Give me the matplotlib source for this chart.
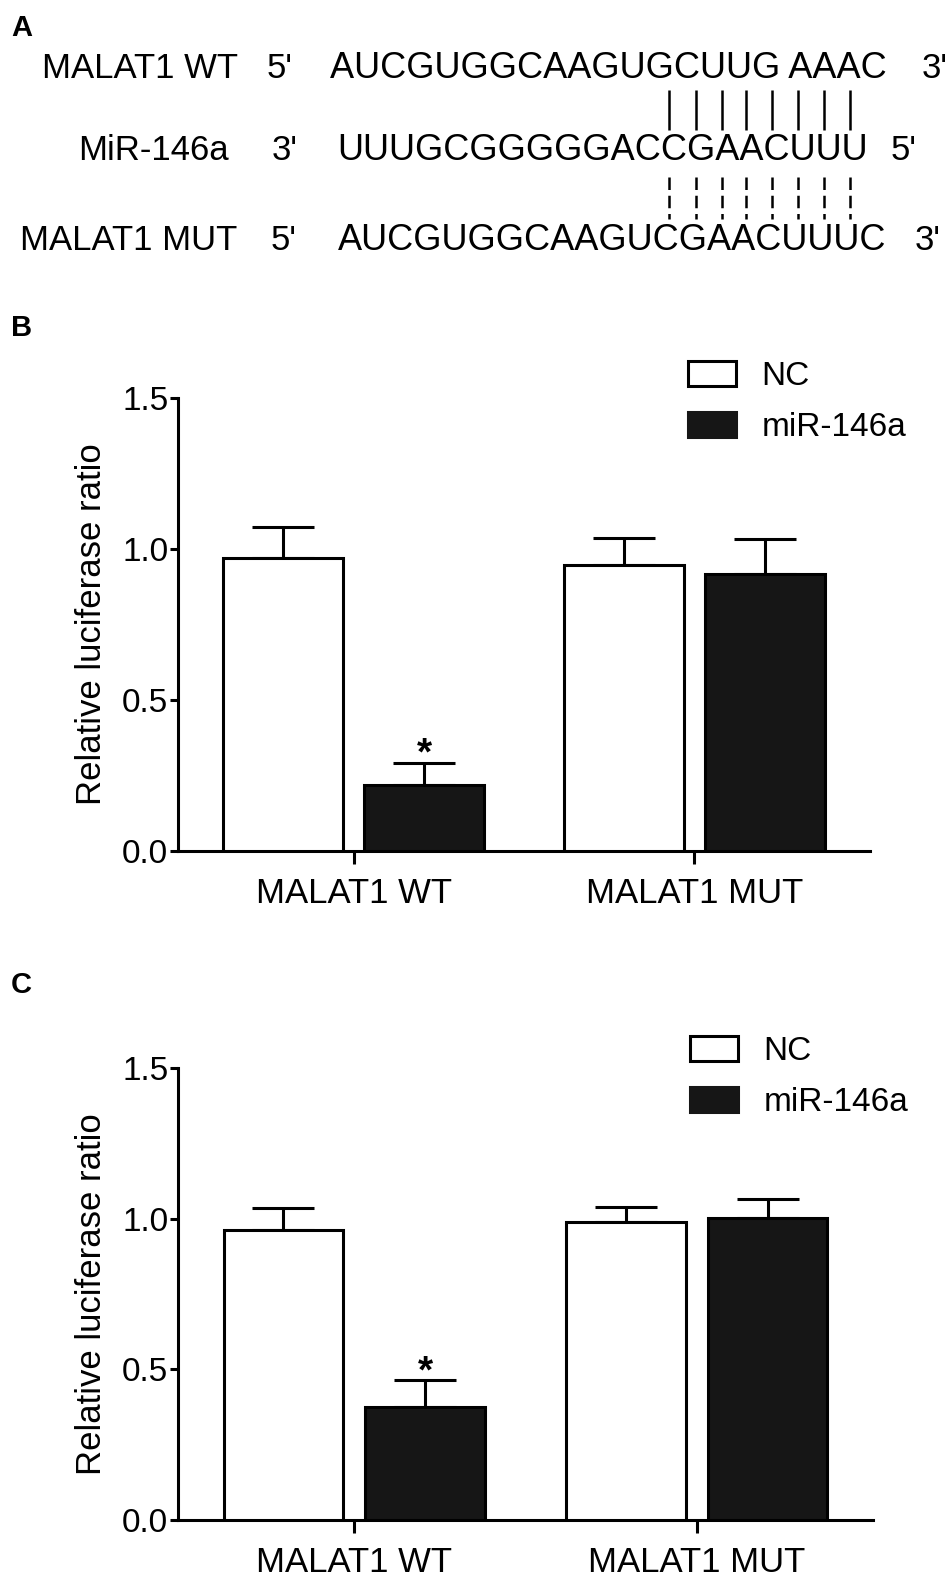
import matplotlib
matplotlib.use("Agg")
import matplotlib.pyplot as plt
from matplotlib.patches import Patch
from matplotlib.font_manager import FontProperties
import numpy as np

plt.rcParams["font.family"] = ["Liberation Sans", "DejaVu Sans"]

# ---- data -------------------------------------------------------------
GROUPS = ["MALAT1 WT", "MALAT1 MUT"]
SERIES = ["NC", "miR-146a"]

# panel B
B_NC = [0.970, 0.948]
B_NC_ERR = [0.102, 0.088]
B_MIR = [0.218, 0.917]
B_MIR_ERR = [0.075, 0.115]

# panel C
C_NC = [0.962, 0.988]
C_NC_ERR = [0.073, 0.052]
C_MIR = [0.375, 1.001]
C_MIR_ERR = [0.089, 0.064]

SIG_MIR = [True, False]  # asterisk over miR-146a bar

YTICKS = [0.0, 0.5, 1.0, 1.5]

# panel A: binding site
SEQ_LABELS = ["MALAT1 WT", "MiR-146a", "MALAT1 MUT"]
SEQ_LEFT_END = ["5'", "3'", "5'"]
SEQ_RIGHT_END = ["3'", "5'", "3'"]
SEQUENCES = ["AUCGUGGCAAGUGCUUG AAAC",
             "UUUGCGGGGGACCGAACUUU",
             "AUCGUGGCAAGUCGAACUUUC"]
N_PAIRED = 8

W, H = 950, 1582
fig = plt.figure(figsize=(W / 100, H / 100), dpi=100)

# overlay in pixel coords for panel A and panel letters
ov = fig.add_axes([0, 0, 1, 1])
ov.set_xlim(0, W)
ov.set_ylim(H, 0)
ov.axis("off")
ov.patch.set_alpha(0)

for s, (x, y) in zip("ABC", [(11, 28), (11, 328), (11, 985)]):
    ov.text(x, y, s, fontsize=21, fontweight="bold", ha="left", va="center")

LBL_FS, SEQ_FS = 25, 26
row_y = [69, 150, 240]
label_right = [238, 229, 237]
left_end_x = [267, 272, 271]
seq_x = [330, 337, 338]
right_end_x = [922, 891, 915]
for i in range(3):
    ov.text(label_right[i], row_y[i], SEQ_LABELS[i], fontsize=LBL_FS, ha="right", va="center")
    ov.text(left_end_x[i], row_y[i], SEQ_LEFT_END[i], fontsize=LBL_FS, ha="left", va="center")
    ov.text(seq_x[i], row_y[i], SEQUENCES[i], fontsize=SEQ_FS, ha="left", va="center")
    ov.text(right_end_x[i], row_y[i], SEQ_RIGHT_END[i], fontsize=LBL_FS, ha="left", va="center")

# bond lines centred on the last paired letters of the miRNA
renderer = fig.canvas.get_renderer()
fp = FontProperties(family=["Liberation Sans", "DejaVu Sans"], size=SEQ_FS)
mir = SEQUENCES[1]


def text_w(s):
    return renderer.get_text_width_height_descent(s, fp, ismath=False)[0] if s else 0.0


for k in range(len(mir) - N_PAIRED, len(mir)):
    cx = seq_x[1] + text_w(mir[:k]) + text_w(mir[k]) / 2 - 5
    ov.plot([cx, cx], [90, 130], color="black", lw=1.8, solid_capstyle="butt")
    ov.plot([cx, cx], [177, 219], color="black", lw=1.8, ls=(0, (5, 2.3)))


def bar_panel(rect, nc, nc_err, mir_v, mir_err, leg_anchor):
    ax = fig.add_axes(rect)
    x = np.arange(len(GROUPS))
    off, w = 0.207, 0.35
    ax.bar(x - off, nc, w, color="white", edgecolor="black", lw=2.2, zorder=3)
    ax.bar(x + off, mir_v, w, color="#161616", edgecolor="black", lw=2.2, zorder=3)
    for xs, v, e in ((x - off, nc, nc_err), (x + off, mir_v, mir_err)):
        ax.errorbar(xs, v, yerr=[np.zeros(len(e)), e], fmt="none", ecolor="black",
                    elinewidth=2.2, capsize=22, capthick=2.2, zorder=2)
    for i, sig in enumerate(SIG_MIR):
        if sig:
            ax.annotate("*", (x[i] + off, mir_v[i] + mir_err[i]), xytext=(0, -7.5),
                        textcoords="offset points", ha="center", va="bottom",
                        fontsize=28, fontweight="bold")
    ax.set_xlim(-0.515, 1.515)
    ax.set_ylim(0, 1.5)
    ax.set_xticks(x)
    ax.set_xticklabels(GROUPS)
    ax.set_yticks(YTICKS)
    ax.set_yticklabels([f"{t:.1f}" for t in YTICKS])
    for sp in ("top", "right"):
        ax.spines[sp].set_visible(False)
    for sp in ("left", "bottom"):
        ax.spines[sp].set_linewidth(2.2)
    ax.tick_params(axis="y", length=6, width=2.2, labelsize=24, pad=1)
    ax.tick_params(axis="x", length=9, width=2.2, labelsize=25, pad=10)
    ax.set_ylabel("Relative luciferase ratio", fontsize=25, labelpad=10)
    handles = [Patch(facecolor="white", edgecolor="black", lw=2.2, label=SERIES[0]),
               Patch(facecolor="#161616", edgecolor="#161616", lw=2.2, label=SERIES[1])]
    ax.legend(handles=handles, loc="upper left", bbox_to_anchor=leg_anchor,
              bbox_transform=fig.transFigure, frameon=False, fontsize=24,
              handlelength=1.45, handleheight=0.75, handletextpad=0.75,
              labelspacing=0.6, borderpad=0, borderaxespad=0)
    return ax


bar_panel([178 / W, 1 - 851 / H, 692 / W, 453 / H],
          B_NC, B_NC_ERR, B_MIR, B_MIR_ERR, (688 / W, 1 - 361 / H))
bar_panel([178 / W, 1 - 1520 / H, 695 / W, 452 / H],
          C_NC, C_NC_ERR, C_MIR, C_MIR_ERR, (690 / W, 1 - 1036 / H))

fig.savefig("out.png", dpi=100)
